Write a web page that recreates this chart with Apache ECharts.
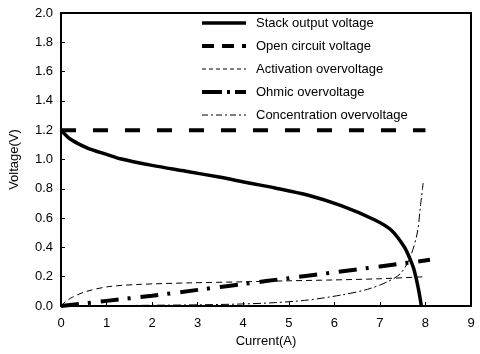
<!DOCTYPE html>
<html>
<head>
<meta charset="utf-8">
<script src="https://cdn.jsdelivr.net/npm/echarts@6/dist/echarts.min.js"></script>
<style>
  html, body { margin: 0; padding: 0; background: #fff; }
  #chart { width: 480px; height: 354px; }
</style>
</head>
<body>
<div id="chart"></div>
<script>
// Fuel cell stack polarization: current (A) vs voltage (V)
const seriesNames = [
  'Stack output voltage',
  'Open circuit voltage',
  'Activation overvoltage',
  'Ohmic overvoltage',
  'Concentration overvoltage'
];

const xTicks = [0, 1, 2, 3, 4, 5, 6, 7, 8, 9];
const yTicks = [0.0, 0.2, 0.4, 0.6, 0.8, 1.0, 1.2, 1.4, 1.6, 1.8, 2.0];

// [current, voltage] pairs
const stackVoltage = [
  [0, 1.2], [0.2, 1.14], [0.57, 1.08], [1.0, 1.035], [1.3, 1.005], [2.0, 0.96],
  [2.74, 0.92], [3.47, 0.88], [4.12, 0.84], [4.7, 0.806], [5.43, 0.756],
  [6.15, 0.685], [6.88, 0.589], [7.24, 0.52], [7.53, 0.406], [7.67, 0.315],
  [7.75, 0.247], [7.85, 0.11], [7.91, 0.0]
];
const openCircuit = [[0, 1.2], [8.0, 1.2]];
const activation = [
  [0, 0], [0.1, 0.03], [0.25, 0.06], [0.54, 0.098], [1.04, 0.132], [1.77, 0.148],
  [2.85, 0.158], [4.0, 0.165], [5.0, 0.172], [6.0, 0.178], [7.0, 0.186], [8.0, 0.2]
];
const ohmic = [
  [0, 0], [1, 0.035], [2, 0.07], [3, 0.11], [4, 0.15], [5, 0.19],
  [6, 0.23], [7, 0.27], [8.1, 0.315]
];
const concentration = [
  [0, 0], [1, 0.002], [2, 0.005], [3, 0.008], [4, 0.014], [4.7, 0.023],
  [5.43, 0.041], [6.15, 0.075], [6.73, 0.114], [7.17, 0.166], [7.46, 0.224],
  [7.67, 0.338], [7.82, 0.498], [7.89, 0.68], [7.95, 0.84]
];

const seriesData = [stackVoltage, openCircuit, activation, ohmic, concentration];
const lineStyles = [
  { width: 3.5, type: 'solid' },
  { width: 4, type: [15, 17] },
  { width: 1, type: [6, 4] },
  { width: 4, type: [18, 9, 3, 10] },
  { width: 1, type: [8, 3, 2, 3] }
];
// dash patterns for the short legend samples
const legendDashes = ['solid', [12, 8], [4, 3], [20, 5, 3, 5], [6, 3, 2, 3]];

const FONT = 'Liberation Sans, Arial, sans-serif';
const chart = echarts.init(document.getElementById('chart'), null, { renderer: 'canvas' });

chart.setOption({
  animation: false,
  backgroundColor: '#fff',
  textStyle: { fontFamily: FONT, color: '#000' },
  grid: {
    left: 57, right: 9, top: 13, bottom: 48,
    show: true, borderColor: '#000', borderWidth: 2, backgroundColor: 'transparent'
  },
  legend: {
    orient: 'vertical',
    left: 195, top: 10,
    itemWidth: 44, itemHeight: 20, itemGap: 7,
    itemStyle: { opacity: 0 },
    textStyle: { fontFamily: FONT, fontSize: 13, color: '#000', padding: [0, 0, 0, 5] },
    data: seriesNames.map((name, i) => ({
      name: name,
      lineStyle: { width: lineStyles[i].width, type: legendDashes[i], color: '#000' }
    }))
  },
  xAxis: {
    type: 'value', min: 0, max: 9, interval: 1,
    name: 'Current(A)', nameLocation: 'middle', nameGap: 28,
    nameTextStyle: { fontFamily: FONT, fontSize: 13, color: '#000' },
    axisLine: { show: true, lineStyle: { color: '#000', width: 2 } },
    axisTick: { show: true, inside: true, length: 4, lineStyle: { color: '#000', width: 1 } },
    axisLabel: {
      fontFamily: FONT, fontSize: 13, color: '#000', margin: 11,
      formatter: v => xTicks.includes(v) ? String(v) : ''
    },
    splitLine: { show: false }
  },
  yAxis: {
    type: 'value', min: 0, max: 2.0, interval: 0.2,
    name: 'Voltage(V)', nameLocation: 'middle', nameGap: 40,
    nameTextStyle: { fontFamily: FONT, fontSize: 13, color: '#000' },
    axisLine: { show: true, lineStyle: { color: '#000', width: 2 } },
    axisTick: { show: true, inside: true, length: 4, lineStyle: { color: '#000', width: 1 } },
    axisLabel: {
      fontFamily: FONT, fontSize: 13, color: '#000', margin: 8,
      formatter: v => yTicks.find(t => Math.abs(t - v) < 1e-6).toFixed(1)
    },
    splitLine: { show: false }
  },
  series: seriesNames.map((name, i) => ({
    name: name,
    type: 'line',
    data: seriesData[i],
    showSymbol: false,
    symbol: 'none',
    smooth: i === 1 ? false : 0.3,
    color: '#000',
    lineStyle: Object.assign({ color: '#000', cap: 'butt' }, lineStyles[i])
  }))
});
</script>
</body>
</html>
